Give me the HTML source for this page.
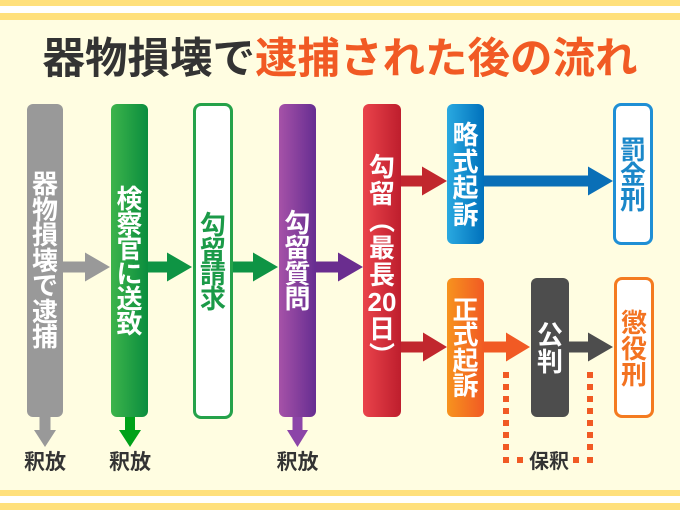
<!DOCTYPE html>
<html lang="ja">
<head>
<meta charset="utf-8">
<style>
  html,body{margin:0;padding:0;}
  body{width:680px;height:510px;position:relative;background:#fffde1;overflow:hidden;
    font-family:"Liberation Sans","Noto Sans CJK JP",sans-serif;font-weight:bold;}
  .stripe{position:absolute;left:0;width:680px;background:#ffe07c;}
  .title{position:absolute;left:0;top:39px;width:680px;text-align:center;font-size:42.5px;line-height:42px;color:#333;white-space:nowrap;}
  .title .o{color:#f15a24;}
  .col{position:absolute;box-sizing:border-box;border-radius:6px;display:flex;flex-direction:column;
    align-items:center;justify-content:center;color:#fff;font-size:26px;text-align:center;}
  .col div{padding-top:2px;}
  .lbl{position:absolute;width:60px;text-align:center;color:#333;white-space:nowrap;}
  svg{position:absolute;left:0;top:0;}
</style>
</head>
<body>
<div class="stripe" style="top:0;height:6px;"></div>
<div class="stripe" style="top:6px;height:7px;background:#fff;"></div>
<div class="stripe" style="top:13px;height:6.5px;"></div>
<div class="stripe" style="top:490px;height:6px;"></div>
<div class="stripe" style="top:496px;height:7px;background:#fff;"></div>
<div class="stripe" style="top:503px;height:7px;"></div>

<div class="title">器物損壊で<span class="o">逮捕された後の流れ</span></div>

<svg width="680" height="510" viewBox="0 0 680 510">
  <!-- horizontal arrows -->
  <polygon fill="#999999" points="61,261.5 85,261.5 85,252.5 110,267 85,281.5 85,272.5 61,272.5"/>
  <polygon fill="#0e9444" points="146,261.5 167,261.5 167,252.5 192,267 167,281.5 167,272.5 146,272.5"/>
  <polygon fill="#0e9444" points="231,261.5 253,261.5 253,252.5 278,267 253,281.5 253,272.5 231,272.5"/>
  <polygon fill="#6a2d8f" points="314,261.5 338,261.5 338,252.5 363,267 338,281.5 338,272.5 314,272.5"/>
  <polygon fill="#c1272d" points="399,175.5 422,175.5 422,166.5 447,181 422,195.5 422,186.5 399,186.5"/>
  <polygon fill="#0a6fb7" points="482,175.5 588,175.5 588,166.5 613,181 588,195.5 588,186.5 482,186.5"/>
  <polygon fill="#c1272d" points="399,341.5 423,341.5 423,332.5 447,347 423,361.5 423,352.5 399,352.5"/>
  <polygon fill="#f15a24" points="482,341.5 506,341.5 506,332.5 530,347 506,361.5 506,352.5 482,352.5"/>
  <polygon fill="#4d4d4d" points="567,341.5 588,341.5 588,332.5 613,347 588,361.5 588,352.5 567,352.5"/>
  <!-- down arrows -->
  <polygon fill="#999999" points="39.5,412 50.5,412 50.5,430 56,430 45,447 34,430 39.5,430"/>
  <polygon fill="#00a119" points="125,412 135,412 135,430 141,430 130,447 119,430 125,430"/>
  <polygon fill="#8c45a8" points="292.5,412 302.5,412 302.5,430 308,430 297.5,447 287,430 292.5,430"/>
  <!-- dotted lines -->
  <g fill="#f15a24">
    <rect x="503" y="372" width="6" height="6"/>
    <rect x="503" y="384" width="6" height="6"/>
    <rect x="503" y="396" width="6" height="6"/>
    <rect x="503" y="408" width="6" height="6"/>
    <rect x="503" y="420" width="6" height="6"/>
    <rect x="503" y="432" width="6" height="6"/>
    <rect x="503" y="444" width="6" height="6"/>
    <rect x="503" y="457" width="6" height="6"/>
    <rect x="517" y="457" width="6" height="6"/>
    <rect x="573" y="457" width="6" height="6"/>
    <rect x="587" y="372" width="6" height="6"/>
    <rect x="587" y="384" width="6" height="6"/>
    <rect x="587" y="396" width="6" height="6"/>
    <rect x="587" y="408" width="6" height="6"/>
    <rect x="587" y="420" width="6" height="6"/>
    <rect x="587" y="432" width="6" height="6"/>
    <rect x="587" y="444" width="6" height="6"/>
    <rect x="587" y="457" width="6" height="6"/>
  </g>
</svg>

<!-- columns -->
<div class="col" style="left:27px;top:104px;width:36px;height:313px;background:#999999;line-height:25.5px;"><div>器<br>物<br>損<br>壊<br>で<br>逮<br>捕</div></div>

<div class="col" style="left:111px;top:104px;width:37px;height:313px;background:linear-gradient(to right,#3db44b,#0a8d3e);line-height:25px;"><div>検<br>察<br>官<br>に<br>送<br>致</div></div>

<div class="col" style="left:193px;top:103px;width:40px;height:316px;background:#fff;border:3px solid #25a24a;border-radius:8px;color:#1b9a48;line-height:24.5px;"><div>勾<br>留<br>請<br>求</div></div>

<div class="col" style="left:279px;top:104px;width:37px;height:313px;background:linear-gradient(to right,#a652a8,#662d91);line-height:25.5px;"><div>勾<br>留<br>質<br>問</div></div>

<div class="col" style="left:363px;top:104px;width:38px;height:313px;background:linear-gradient(to right,#ea434b,#be1e2d);line-height:27px;"><div>勾<br>留<br>︵<br>最<br>長<br>20<br>日<br>︶</div></div>

<div class="col" style="left:447px;top:104px;width:37px;height:140px;background:linear-gradient(to right,#2aa9e0,#0071bc);line-height:26.5px;"><div>略<br>式<br>起<br>訴</div></div>

<div class="col" style="left:613px;top:103px;width:40px;height:142px;background:#fff;border:3px solid #1f8fd5;border-radius:8px;color:#1a87c9;line-height:25px;"><div>罰<br>金<br>刑</div></div>

<div class="col" style="left:447px;top:278px;width:37px;height:139px;background:linear-gradient(to right,#f7931e,#f15a24);line-height:25.5px;"><div>正<br>式<br>起<br>訴</div></div>

<div class="col" style="left:531px;top:278px;width:38px;height:139px;background:#4d4d4d;line-height:27px;"><div>公<br>判</div></div>

<div class="col" style="left:614px;top:277px;width:40px;height:141px;background:#fff;border:3px solid #f47b20;border-radius:8px;color:#f37321;line-height:26px;"><div>懲<br>役<br>刑</div></div>

<!-- labels -->
<div class="lbl" style="left:15px;top:450.5px;font-size:21px;line-height:24px;">釈放</div>
<div class="lbl" style="left:100px;top:450.5px;font-size:21px;line-height:24px;">釈放</div>
<div class="lbl" style="left:267.5px;top:450.5px;font-size:21px;line-height:24px;">釈放</div>
<div class="lbl" style="left:519px;top:450px;font-size:20px;line-height:24px;">保釈</div>
</body>
</html>
